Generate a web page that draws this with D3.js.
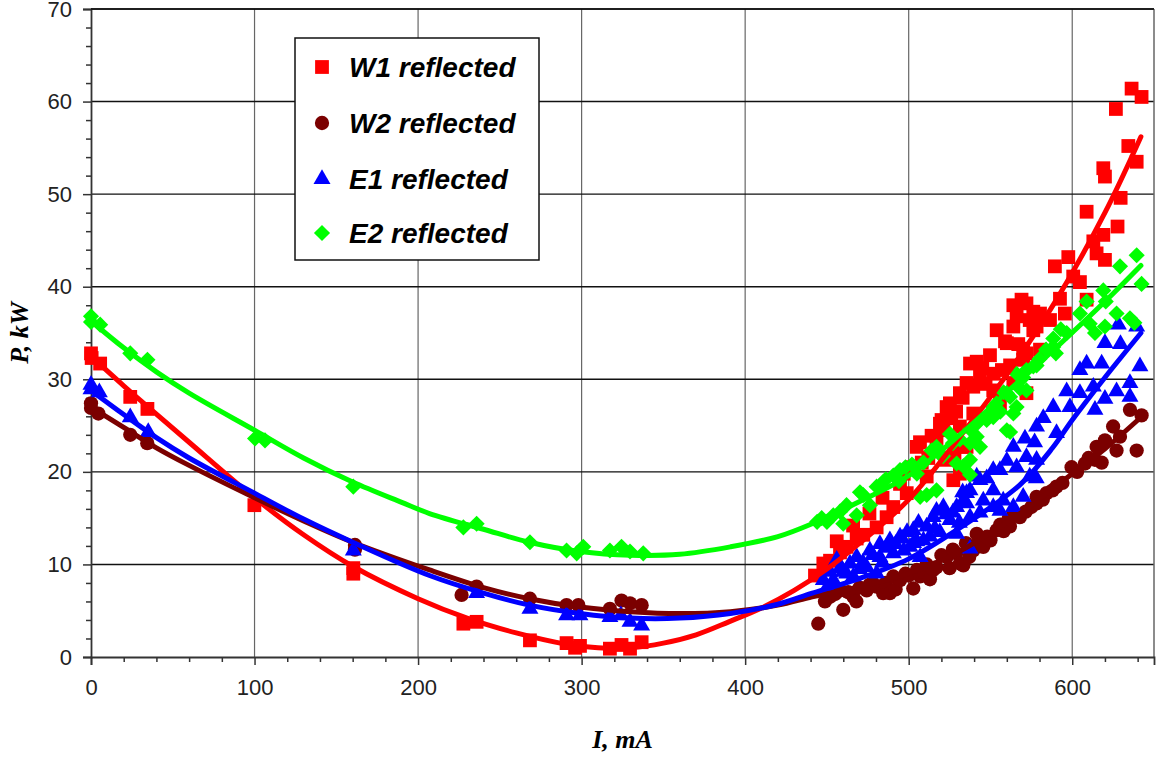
<!DOCTYPE html>
<meta charset="utf-8">
<script src="https://d3js.org/d3.v7.min.js"></script>
<style>
  body { margin: 0; background: #fff; }
</style>
<div id="my_dataviz"></div>
<script>

// series names
var seriesNames = ["W1 reflected", "W2 reflected", "E1 reflected", "E2 reflected"];

// W1 reflected  [I mA, P kW]
var w1Points = [[0,32.8],[0.4,32.3],[5.6,31.7],[24,28.1],[34.5,26.8],[99.9,16.4],[160.4,9.6],[160.4,9.0],
  [227.7,3.6],[235.8,3.8],[268.4,1.8],[290.8,1.5],[296,1.0],[299,1.2],[317.3,0.9],[324.4,1.3],[329.6,0.9],[336.7,1.6],
  [442.7,8.8],[447.8,10.1],[451.9,10.4],[456,12.5],[458,11.3],[462,11.9],[466,14.2],[468.2,12.8],[472.2,13.2],[476,15.5],
  [480.4,14.0],[484,17.2],[486.5,15.1],[490.6,16.2],[494.7,18.7],[497,19.8],[498.8,17.7],[502,20.5],[504.9,22.7],
  [506.9,23.2],[508,21.0],[511,19.5],[512,21.5],[514,23.9],[517,23.4],[519.1,25.2],[520.1,25.6],[521.2,24.5],[523.2,21.3],
  [523.2,27.0],[525.2,27.4],[526,25.8],[527.3,19.1],[528,22.0],[529,26.5],[531.3,28.5],[531.3,24.9],[531.3,19.8],
  [533,28.0],[533.4,22.7],[535.4,29.6],[535.4,22.7],[537.5,31.7],[539.5,29.2],[539.5,26.3],[541.6,31.9],[543.6,30.6],
  [545,31.2],[547,29.5],[549.7,32.6],[551.7,28.8],[552,30.6],[553.8,35.3],[555.8,27.4],[557,31.0],[558.9,34.1],
  [560,33.9],[562,31.5],[564,35.7],[564,38.0],[564,29.6],[566,36.8],[567,33.8],[569,38.6],[570,32.1],[570,33.3],
  [572,38.2],[572.1,32.8],[572,28.5],[574,36.4],[576.2,37.3],[576.2,35.3],[578.2,35.7],[580.3,37.1],[580.3,33.2],
  [586.4,36.4],[589.4,42.2],[592.5,38.7],[595.5,37.1],[597.6,43.2],[600.6,41.1],[604.7,40.5],[608.8,48.1],[608.8,38.6],
  [612.9,44.9],[614.9,43.6],[619,52.8],[620,51.9],[619,45.6],[620,42.9],[626.7,59.2],[627.7,46.5],[629.6,49.6],
  [634.3,55.2],[636.3,61.4],[639.4,53.5],[642.4,60.5]];

// W2 reflected
var w2Points = [[0,27.4],[0,26.9],[4.5,26.3],[24,24.0],[34.4,23.1],[161.4,11.6],[161.4,12.1],[226.6,6.7],[235.8,7.6],
  [268.4,6.3],[290.8,5.6],[298,5.6],[317.3,5.2],[324.4,6.1],[329.6,5.8],[336.7,5.6],
  [444.7,3.6],[448.8,6.0],[452,6.5],[455,6.8],[458,7.2],[460,5.1],[463,7.0],[466.1,6.5],[468,6.0],[470,7.5],[474.3,7.2],
  [476,7.8],[478,8.0],[480.4,7.6],[484.4,6.9],[486,8.0],[488.5,6.9],[490.6,8.7],[492,7.3],[494.7,8.3],[498,9.0],
  [500,8.8],[502.8,7.4],[505,9.4],[507,8.7],[509,9.2],[511,10.0],[513,8.4],[515,9.4],[517,9.7],[520,11.0],[523.2,10.8],
  [525,9.6],[527,11.6],[529,11.2],[531.3,10.1],[533.4,9.9],[535,12.3],[537,10.8],[539.5,11.5],[541.6,13.3],[543,12.5],
  [545.6,11.9],[548,13.0],[550,12.6],[553.8,13.7],[556,14.3],[558,13.6],[561.9,14.1],[561,14.9],[564,15.3],[568,15.1],
  [571.6,15.7],[575,16.2],[578.2,16.6],[578.2,17.3],[582,17.0],[584.3,17.7],[588,18.0],[590.4,18.4],[594,18.8],
  [599.6,20.5],[603,20.0],[607.8,20.9],[610,21.5],[613.9,21.3],[614.9,22.7],[618,21.0],[620,23.4],[625,24.9],
  [627.1,22.3],[629.2,23.8],[635.3,26.7],[639.4,22.3],[642.4,26.1]];

// E1 reflected
var e1Points = [[0,29.4],[0,28.9],[5.1,28.6],[24,25.9],[35,24.3],[160.4,11.5],[235.8,6.9],[268.4,5.2],[290.8,4.5],
  [299,4.5],[317.3,4.3],[324,4.5],[329.6,3.8],[336.7,3.4],
  [447.8,8.3],[450,7.5],[451.9,9.2],[453.9,8.3],[456,10.5],[458,9.6],[460,9.2],[462,9.0],[464.1,10.1],[466.1,8.7],
  [468.2,10.8],[470,9.5],[472,10.2],[474.3,9.7],[476.3,11.5],[478,11.0],[480.4,9.0],[482.4,12.2],[482.4,10.8],
  [484,10.2],[486,11.8],[488.5,12.6],[490.6,11.2],[492,12.2],[494.7,13.0],[496,12.8],[497,11.5],[499,13.5],[500.8,11.9],
  [502.8,13.7],[503,12.3],[505,12.5],[506,14.5],[507,10.8],[509,12.6],[511,14.1],[513,13.0],[515,15.1],[516,13.9],
  [517,15.8],[519,13.5],[521.2,16.2],[523,15.4],[525.2,14.8],[527,15.6],[529.3,16.2],[529.3,13.3],[531,14.5],
  [533,17.8],[533.4,16.9],[535.4,17.7],[535.4,16.6],[537.5,18.0],[537.5,15.1],[537.5,11.7],[541.6,19.5],[543.6,19.1],
  [543.6,15.6],[545.6,16.9],[547.7,19.3],[551.7,20.2],[551.7,18.0],[551.7,16.2],[555.8,20.2],[555.8,15.8],[557.8,16.9],
  [560,21.2],[564,22.7],[564,16.2],[566,20.5],[570,17.3],[571.1,23.6],[572,21.6],[574,19.5],[577,23.2],[578.2,24.9],
  [578.2,21.3],[578,19.3],[582.3,25.8],[588.4,27.0],[590.4,24.2],[596.6,28.7],[598.6,27.0],[604.7,31.0],[604.7,28.5],
  [608.8,31.7],[612.9,29.2],[613.9,26.7],[618,31.7],[620,33.9],[620,27.9],[627.1,28.7],[628.2,35.9],[629.5,33.8],
  [635.3,29.6],[635.3,28.1],[639.4,35.7],[641.4,31.4]];

// E2 reflected
var e2Points = [[0,36.8],[0,36.2],[5.6,35.9],[24,32.8],[34.5,32.1],[100.3,23.6],[106.4,23.4],[160.4,18.4],[227.7,14.0],
  [235.8,14.4],[268.4,12.4],[290.8,11.5],[297,11.2],[301,11.9],[317.3,11.5],[324.4,11.9],[329.6,11.4],[337.7,11.2],
  [444,14.6],[446.8,15.0],[450,14.6],[453.9,15.3],[458,15.7],[460,14.4],[462,16.4],[468.2,15.3],[470.2,17.8],
  [472.2,17.5],[476.3,16.4],[480.4,18.4],[484.4,18.9],[486,19.2],[490.6,19.6],[494,19.0],[494.7,20.2],[498,20.5],
  [502,20.8],[505,19.8],[507,17.3],[509,21.0],[511,17.5],[514,22.3],[517,22.7],[517,18.0],[518.6,22.0],[521,21.7],
  [525.2,24.1],[527,23.1],[529.3,20.9],[531.3,23.5],[533.4,20.6],[537.5,24.6],[537.5,23.1],[537.5,21.3],[537.5,19.7],
  [541.6,25.2],[541.6,23.8],[543.6,22.7],[544,25.8],[547.7,25.6],[549.7,26.1],[551.7,27.0],[551.7,25.9],[553.8,27.4],
  [556,26.5],[558,28.6],[560,28.5],[560,24.5],[562,28.1],[562,24.3],[564,26.3],[566,27.0],[566,30.6],[568,29.0],
  [570,30.2],[572,31.0],[572,28.8],[576.2,31.4],[578.2,31.5],[580,32.2],[584,33.2],[588.4,34.4],[588.4,33.5],
  [590,32.8],[593,35.4],[596.6,35.0],[604.7,37.1],[608.8,38.4],[610.7,36.0],[613.9,35.0],[619,39.6],[620,35.7],
  [620.5,38.4],[627.1,37.1],[629.2,42.2],[635.3,36.6],[638,36.1],[639.4,43.4],[642.4,40.3]];

// trend lines
var w1Fit = [[0,32.5],[20,29.3],[35,27],[60,23.2],[100,17.2],[130,13.2],[160,9.8],[200,6.3],[230,4.2],[260,2.6],
  [290,1.4],[310,1.0],[330,1.0],[350,1.5],[370,2.4],[390,3.8],[410,5.3],[430,7.2],[450,9.5],[470,12.3],[500,17],
  [530,23.5],[560,30.5],[590,38.5],[620,48],[642,56.2]];
var w2Fit = [[0,27],[20,24.8],[40,22.6],[60,20.7],[100,17.2],[130,14.7],[160,12.4],[207,9.4],[240,7.5],[268,6.3],
  [299,5.4],[330,4.9],[360,4.7],[391,4.9],[420,5.6],[441,6.5],[470,7.6],[500,9.0],[530,11.3],[568,15.5],[600,19.8],
  [620,22.5],[642,25.9]];
var e1Fit = [[0,28.8],[20,26.2],[40,23.7],[60,21.5],[100,17.7],[130,14.9],[160,12.4],[207,8.8],[240,6.9],[268,5.6],
  [299,4.7],[330,4.2],[360,4.2],[391,4.7],[420,5.7],[441,6.9],[470,8.5],[500,10.6],[530,13.8],[568,18.6],[588,22.6],
  [600,25.6],[620,30.2],[642,35]];
var e2Fit = [[0,36.3],[20,33.4],[40,30.8],[60,28.5],[100,24.5],[130,21.5],[160,18.9],[190,16.7],[207,15.5],[240,13.8],
  [268,12.4],[299,11.4],[330,11.0],[360,11.1],[391,11.9],[420,13],[441,14.4],[470,16.8],[500,19.6],[530,23.8],
  [560,28.6],[590,33.4],[620,38.4],[642,42.3]];

var xTicks = [0, 100, 200, 300, 400, 500, 600];
var yTicks = [0, 10, 20, 30, 40, 50, 60, 70];

var colors = ["#ff0000", "#7b0000", "#0000ff", "#00ff00"];
var allPoints = [w1Points, w2Points, e1Points, e2Points];
var allFits = [w1Fit, w2Fit, e1Fit, e2Fit];

// set the dimensions and margins of the graph
var W = 1156, H = 759;
var margin = {top: 9, right: 2, bottom: 102, left: 91},
    width = W - margin.left - margin.right,
    height = H - margin.top - margin.bottom;

var svg = d3.select("#my_dataviz")
  .append("svg")
    .attr("width", W)
    .attr("height", H)
  .append("g")
    .attr("transform", "translate(" + margin.left + "," + margin.top + ")");

var x = d3.scaleLinear().domain([0, 650]).range([0, width]);
var y = d3.scaleLinear().domain([0, 70]).range([height, 0]);

// grid
svg.append("g").selectAll("line")
  .data(xTicks.filter(function(d) { return d > 0; }))
  .enter().append("line")
    .attr("x1", function(d) { return x(d); })
    .attr("x2", function(d) { return x(d); })
    .attr("y1", 0).attr("y2", height)
    .attr("stroke", "#666").attr("stroke-width", 1.2);
svg.append("g").selectAll("line")
  .data(yTicks.filter(function(d) { return d > 0; }))
  .enter().append("line")
    .attr("x1", 0).attr("x2", width)
    .attr("y1", function(d) { return y(d); })
    .attr("y2", function(d) { return y(d); })
    .attr("stroke", "#111").attr("stroke-width", 1.4);

// right border
svg.append("line")
  .attr("x1", width).attr("x2", width).attr("y1", 0).attr("y2", height)
  .attr("stroke", "#666").attr("stroke-width", 1.5);

// X axis
svg.append("g")
  .attr("transform", "translate(0," + height + ")")
  .call(d3.axisBottom(x).tickValues(xTicks).tickSize(8).tickPadding(14).tickFormat(d3.format("d")));
svg.append("g")
  .attr("transform", "translate(0," + height + ")")
  .call(d3.axisBottom(x).tickValues(d3.range(20, 650, 20).filter(function(d) { return d % 100; }))
        .tickSize(5).tickFormat(""))
  .select(".domain").remove();

// Y axis
svg.append("g")
  .call(d3.axisLeft(y).tickValues(yTicks).tickSize(8).tickPadding(11));
svg.append("g")
  .call(d3.axisLeft(y).tickValues(d3.range(2, 70, 2).filter(function(d) { return d % 10; }))
        .tickSize(5).tickFormat(""))
  .select(".domain").remove();

svg.selectAll(".domain").attr("stroke", "#333").attr("stroke-width", 1.8);
svg.selectAll(".tick line").attr("stroke", "#333").attr("stroke-width", 1.5);
svg.selectAll(".tick text")
  .style("font-family", "'Liberation Sans', Arial, sans-serif")
  .style("font-size", "22px")
  .attr("fill", "#222");

// markers
var symbolTypes = [d3.symbolSquare, d3.symbolCircle, d3.symbolTriangle, d3.symbolSquare];
var symbolSizes = [190, 160, 125, 130];
var symbolRotate = [0, 0, 0, 45];

function markerPath(i) {
  return d3.symbol().type(symbolTypes[i]).size(symbolSizes[i])();
}

allPoints.forEach(function(pts, i) {
  svg.append("g").selectAll("path")
    .data(pts)
    .enter().append("path")
      .attr("d", markerPath(i))
      .attr("transform", function(d) {
        return "translate(" + x(d[0]) + "," + y(d[1]) + ")" + (symbolRotate[i] ? " rotate(" + symbolRotate[i] + ")" : "");
      })
      .attr("fill", colors[i]);
});

// trend lines
var line = d3.line()
  .x(function(d) { return x(d[0]); })
  .y(function(d) { return y(d[1]); })
  .curve(d3.curveCatmullRom.alpha(0.5));

allFits.forEach(function(fit, i) {
  svg.append("path")
    .datum(fit)
    .attr("d", line)
    .attr("fill", "none")
    .attr("stroke", colors[i])
    .attr("stroke-width", 5)
    .attr("stroke-linecap", "round")
    .attr("stroke-linejoin", "round");
});

// top frame line
svg.append("line")
  .attr("x1", 0).attr("x2", width).attr("y1", y(70)).attr("y2", y(70))
  .attr("stroke", "#111").attr("stroke-width", 1.5);

// axis titles
svg.append("text")
  .attr("x", x(325))
  .attr("y", height + 91)
  .attr("text-anchor", "middle")
  .style("font-family", "'Liberation Serif', 'Times New Roman', serif")
  .style("font-weight", "bold")
  .style("font-style", "italic")
  .style("font-size", "26px")
  .text("I, mA");

svg.append("text")
  .attr("transform", "translate(" + (-63) + "," + y(35) + ") rotate(-90)")
  .attr("text-anchor", "middle")
  .style("font-family", "'Liberation Serif', 'Times New Roman', serif")
  .style("font-weight", "bold")
  .style("font-style", "italic")
  .style("font-size", "26px")
  .text("P, kW");

// legend
var legend = svg.append("g").attr("transform", "translate(" + (295 - margin.left) + "," + (38 - margin.top) + ")");
legend.append("rect")
  .attr("width", 244).attr("height", 222)
  .attr("fill", "#fff").attr("stroke", "#111").attr("stroke-width", 1.5);

var rowY = [29, 85, 141, 195];
seriesNames.forEach(function(name, i) {
  legend.append("path")
    .attr("d", markerPath(i))
    .attr("transform", "translate(27," + rowY[i] + ")" + (symbolRotate[i] ? " rotate(" + symbolRotate[i] + ")" : ""))
    .attr("fill", colors[i]);
  legend.append("text")
    .attr("x", 54)
    .attr("y", rowY[i] + 10)
    .style("font-family", "'Liberation Sans', Arial, sans-serif")
    .style("font-weight", "bold")
    .style("font-style", "italic")
    .style("font-size", "28px")
    .text(name);
});

</script>
